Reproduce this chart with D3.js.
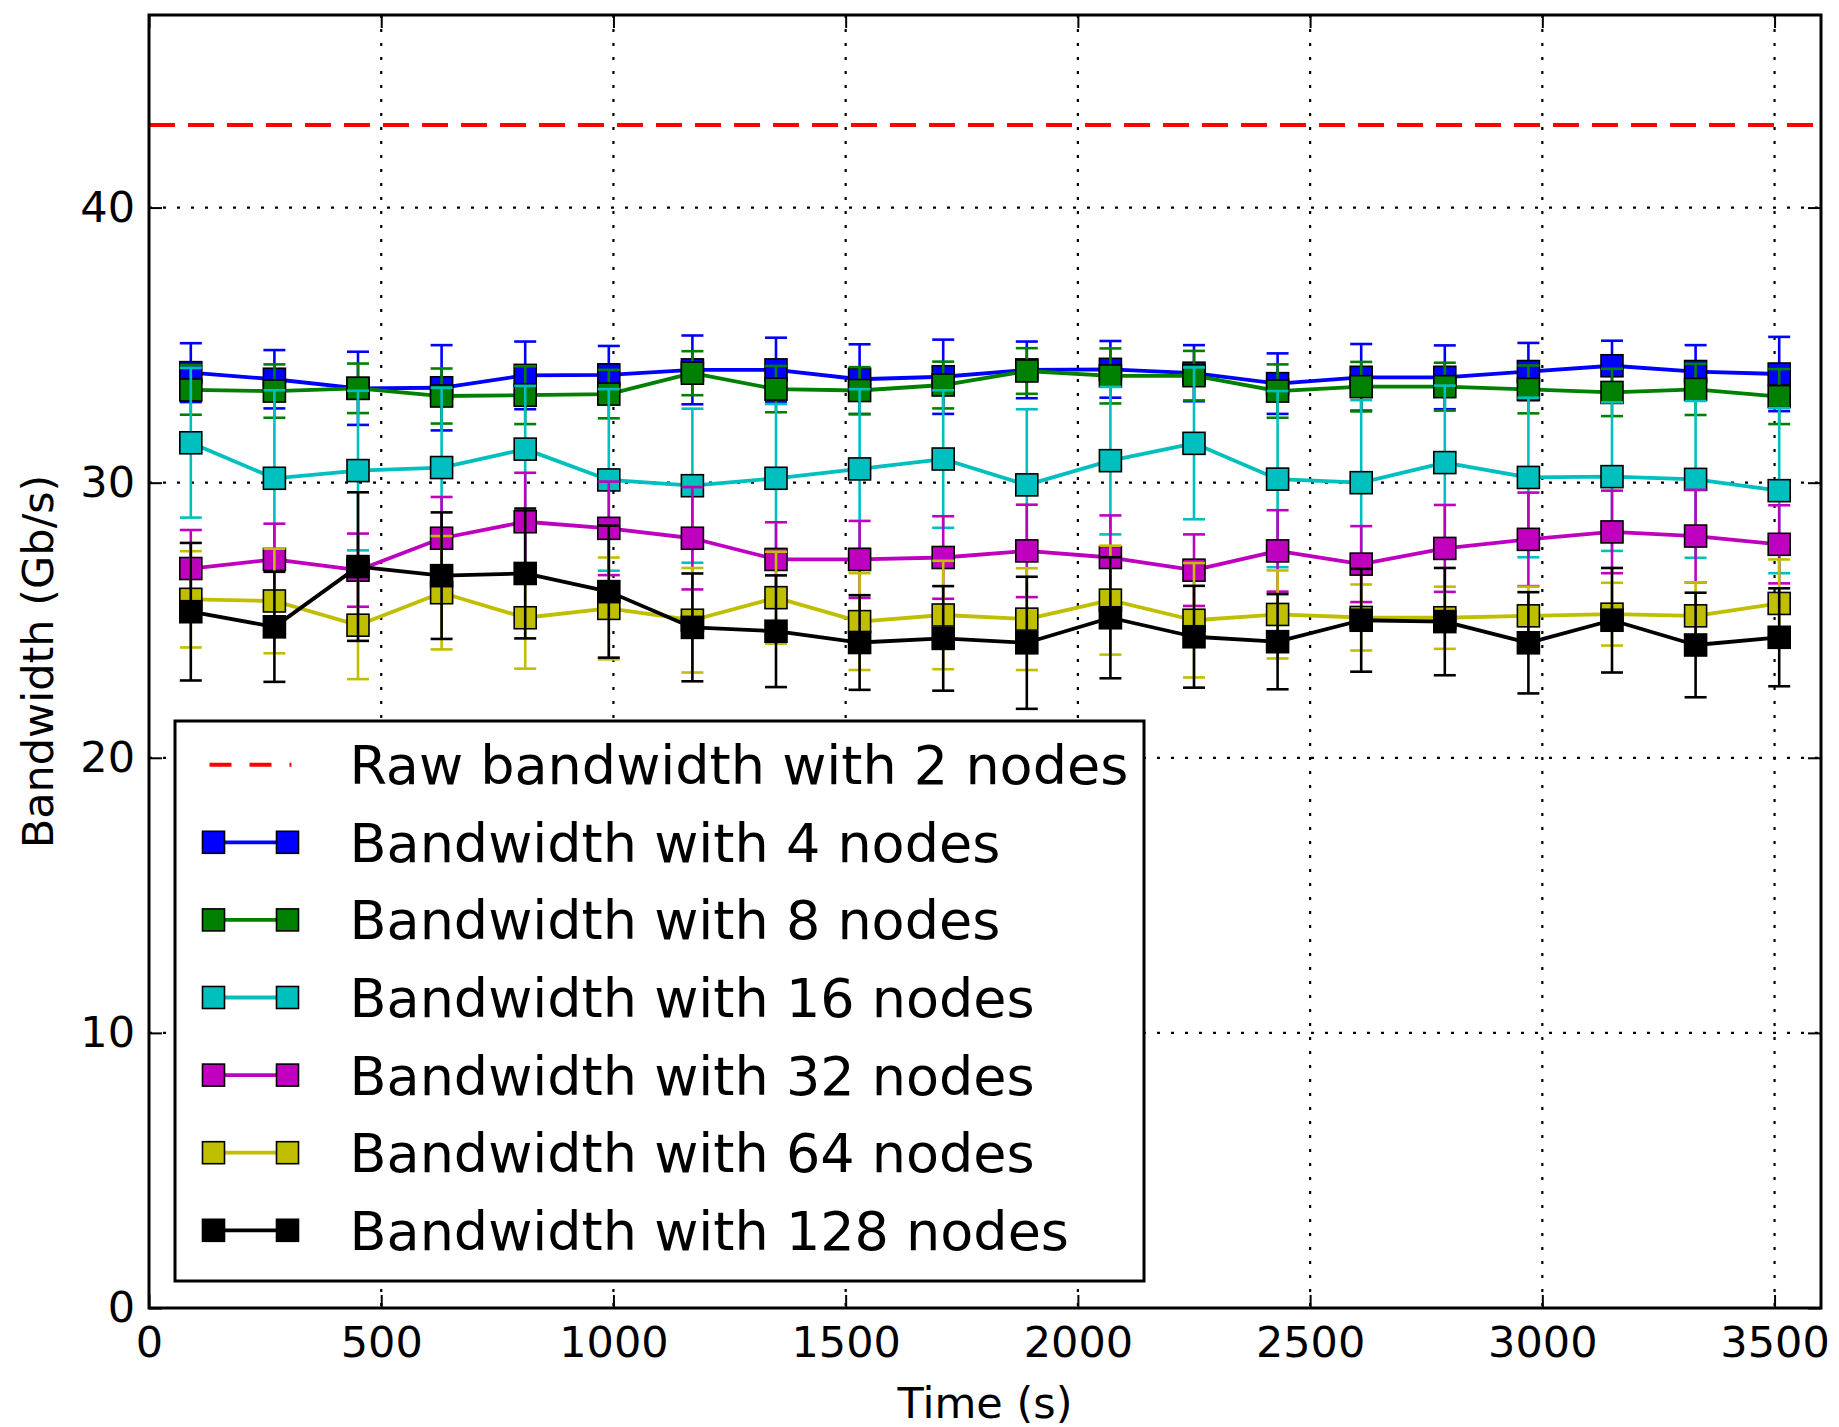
<!DOCTYPE html>
<html>
<head>
<meta charset="utf-8">
<script src="https://cdn.jsdelivr.net/npm/d3@7/dist/d3.min.js"></script>
<style>
  body { margin: 0; background: #fff; }
  svg text { font-family: 'DejaVu Sans', sans-serif; fill: #000; }
</style>
</head>
<body>
<div id="chart-container"></div>
<script>
// time of each sample (s)
const times = [90, 270, 450, 630, 810, 990, 1170, 1350, 1530, 1710,
               1890, 2070, 2250, 2430, 2610, 2790, 2970, 3150, 3330, 3510];

const rawBandwidth = 43;

// mean bandwidth (Gb/s) per node count
const bw4   = [34.0, 33.76, 33.43, 33.45, 33.9, 33.92, 34.1, 34.1, 33.76, 33.85,
               34.1, 34.12, 33.98, 33.6, 33.83, 33.83, 34.04, 34.25, 34.04, 33.95];
const bw8   = [33.37, 33.33, 33.43, 33.15, 33.18, 33.22, 33.98, 33.4, 33.35, 33.55,
               34.06, 33.88, 33.89, 33.33, 33.49, 33.49, 33.39, 33.28, 33.39, 33.13];
const bw16  = [31.45, 30.16, 30.44, 30.55, 31.22, 30.1, 29.89, 30.16, 30.5, 30.86,
               29.92, 30.8, 31.43, 30.13, 30.0, 30.73, 30.19, 30.22, 30.12, 29.71];
const bw32  = [26.88, 27.21, 26.82, 27.98, 28.58, 28.34, 27.98, 27.21, 27.21, 27.28,
               27.52, 27.28, 26.82, 27.52, 27.04, 27.61, 27.94, 28.21, 28.06, 27.76];
const bw64  = [25.76, 25.7, 24.82, 26.0, 25.09, 25.43, 25.0, 25.82, 24.95, 25.19,
               25.04, 25.73, 25.0, 25.21, 25.1, 25.09, 25.16, 25.22, 25.16, 25.61];
const bw128 = [25.31, 24.76, 26.95, 26.62, 26.7, 26.04, 24.74, 24.6, 24.19, 24.34,
               24.18, 25.09, 24.4, 24.22, 25.0, 24.95, 24.18, 25.0, 24.1, 24.38];

// error bar half-heights
const err4   = [1.07, 1.06, 1.33, 1.55, 1.23, 1.05, 1.25, 1.17, 1.27, 1.35,
                1.03, 1.03, 1.02, 1.1, 1.21, 1.16, 1.04, 0.91, 0.96, 1.35];
const err8   = [0.9, 0.97, 0.9, 1.0, 1.05, 0.88, 0.8, 0.84, 0.85, 0.85,
                0.83, 1.0, 0.9, 0.97, 0.9, 0.87, 0.87, 0.86, 0.93, 1.0];
const err16  = [2.72, 3.2, 2.9, 2.9, 2.3, 3.3, 2.8, 2.7, 2.9, 2.5,
                2.75, 2.68, 2.76, 3.2, 3.0, 2.8, 2.9, 2.7, 2.85, 3.0];
const err32  = [1.4, 1.3, 1.33, 1.5, 1.78, 1.7, 1.86, 1.35, 1.4, 1.5,
                1.68, 1.53, 1.3, 1.48, 1.38, 1.58, 1.7, 1.5, 1.68, 1.42];
const err64  = [1.75, 1.9, 1.96, 2.06, 1.85, 1.85, 1.9, 1.67, 1.76, 1.97,
                1.85, 1.98, 2.08, 1.6, 1.2, 1.13, 1.06, 1.14, 1.22, 1.6];
const err128 = [2.5, 2.0, 2.7, 2.3, 2.36, 2.4, 1.96, 2.03, 1.72, 1.9,
                2.4, 2.2, 1.85, 1.73, 1.87, 1.95, 1.84, 1.9, 1.9, 1.78];

const seriesNames = ["Bandwidth with 4 nodes", "Bandwidth with 8 nodes", "Bandwidth with 16 nodes",
                     "Bandwidth with 32 nodes", "Bandwidth with 64 nodes", "Bandwidth with 128 nodes"];
const seriesColors = ["#0000ff", "#008000", "#00bfbf", "#bf00bf", "#bfbf00", "#000000"];
const rawLabel = "Raw bandwidth with 2 nodes";

const xTicks = [0, 500, 1000, 1500, 2000, 2500, 3000, 3500];
const yTicks = [0, 10, 20, 30, 40];

const series = [bw4, bw8, bw16, bw32, bw64, bw128].map((vals, i) => ({
  name: seriesNames[i],
  color: seriesColors[i],
  points: vals.map((v, j) => ({ t: times[j], v: v, e: [err4, err8, err16, err32, err64, err128][i][j] }))
}));

const W = 1839, H = 1427;
const margin = { top: 15, right: 18, bottom: 119, left: 149 };
const width = W - margin.left - margin.right;
const height = H - margin.top - margin.bottom;

const svg = d3.select("#chart-container")
  .append("svg")
  .attr("width", W)
  .attr("height", H);

svg.append("rect").attr("width", W).attr("height", H).attr("fill", "#fff");

const g = svg.append("g").attr("transform", `translate(${margin.left},${margin.top})`);

const x = d3.scaleLinear().domain([0, 3600]).range([0, width]);
const y = d3.scaleLinear().domain([0, 47]).range([height, 0]);

g.append("clipPath").attr("id", "clip")
  .append("rect").attr("width", width).attr("height", height);

// dotted grid
const grid = g.append("g")
  .attr("stroke", "#000")
  .attr("stroke-width", 2.2)
  .attr("stroke-dasharray", "3 11");
grid.selectAll(".gx").data(xTicks.filter(d => d > 0)).enter()
  .append("line")
  .attr("x1", d => x(d)).attr("x2", d => x(d))
  .attr("y1", 0).attr("y2", height);
grid.selectAll(".gy").data(yTicks.filter(d => d > 0)).enter()
  .append("line")
  .attr("x1", 0).attr("x2", width)
  .attr("y1", d => y(d)).attr("y2", d => y(d));

const plot = g.append("g").attr("clip-path", "url(#clip)");

// raw bandwidth reference
plot.append("line")
  .attr("x1", x(0)).attr("x2", x(3600))
  .attr("y1", y(rawBandwidth)).attr("y2", y(rawBandwidth))
  .attr("stroke", "#ff0000")
  .attr("stroke-width", 4)
  .attr("stroke-dasharray", "26 13");

const line = d3.line().x(d => x(d.t)).y(d => y(d.v));
const markerSize = 22;
const capHalf = 11;

series.forEach(s => {
  const sg = plot.append("g");

  const bars = sg.append("g").attr("stroke", s.color).attr("stroke-width", 2.6);
  bars.selectAll(".bar").data(s.points).enter()
    .append("line")
    .attr("x1", d => x(d.t)).attr("x2", d => x(d.t))
    .attr("y1", d => y(d.v - d.e)).attr("y2", d => y(d.v + d.e));
  bars.selectAll(".capTop").data(s.points).enter()
    .append("line")
    .attr("x1", d => x(d.t) - capHalf).attr("x2", d => x(d.t) + capHalf)
    .attr("y1", d => y(d.v + d.e)).attr("y2", d => y(d.v + d.e));
  bars.selectAll(".capBot").data(s.points).enter()
    .append("line")
    .attr("x1", d => x(d.t) - capHalf).attr("x2", d => x(d.t) + capHalf)
    .attr("y1", d => y(d.v - d.e)).attr("y2", d => y(d.v - d.e));

  sg.append("path")
    .datum(s.points)
    .attr("d", line)
    .attr("fill", "none")
    .attr("stroke", s.color)
    .attr("stroke-width", 3.8)
    .attr("stroke-linejoin", "round");

  sg.selectAll(".mk").data(s.points).enter()
    .append("rect")
    .attr("x", d => x(d.t) - markerSize / 2)
    .attr("y", d => y(d.v) - markerSize / 2)
    .attr("width", markerSize)
    .attr("height", markerSize)
    .attr("fill", s.color)
    .attr("stroke", "#000")
    .attr("stroke-width", 1.6);
});

// axes with inward ticks on all sides
const tickLen = 13;
const fontSize = 43;

const xAxis = g.append("g")
  .attr("transform", `translate(0,${height})`)
  .call(d3.axisBottom(x).tickValues(xTicks).tickFormat(d3.format("d"))
    .tickSizeInner(-tickLen).tickSizeOuter(0).tickPadding(18));
const yAxis = g.append("g")
  .call(d3.axisLeft(y).tickValues(yTicks).tickFormat(d3.format("d"))
    .tickSizeInner(-tickLen).tickSizeOuter(0).tickPadding(14));
const xTop = g.append("g")
  .call(d3.axisTop(x).tickValues(xTicks).tickSizeInner(-tickLen).tickSizeOuter(0).tickFormat(""));
const yRight = g.append("g")
  .attr("transform", `translate(${width},0)`)
  .call(d3.axisRight(y).tickValues(yTicks).tickSizeInner(-tickLen).tickSizeOuter(0).tickFormat(""));

[xAxis, yAxis, xTop, yRight].forEach(a => {
  a.select(".domain").remove();
  a.selectAll(".tick line").attr("stroke", "#000").attr("stroke-width", 2);
  a.selectAll("text").style("font-size", fontSize + "px").attr("fill", "#000");
});

g.append("rect")
  .attr("width", width).attr("height", height)
  .attr("fill", "none")
  .attr("stroke", "#000")
  .attr("stroke-width", 3);

// axis titles
g.append("text")
  .attr("text-anchor", "middle")
  .attr("x", width / 2)
  .attr("y", height + 110)
  .style("font-size", fontSize + "px")
  .text("Time (s)");

g.append("text")
  .attr("text-anchor", "middle")
  .attr("transform", "rotate(-90)")
  .attr("x", -height / 2)
  .attr("y", -96)
  .style("font-size", fontSize + "px")
  .text("Bandwidth (Gb/s)");

// legend
const legX = 175 - margin.left, legY = 721 - margin.top;
const legW = 969, legH = 560;
const legend = g.append("g").attr("transform", `translate(${legX},${legY})`);
legend.append("rect")
  .attr("width", legW).attr("height", legH)
  .attr("fill", "#fff")
  .attr("stroke", "#000")
  .attr("stroke-width", 3);

const legFont = 54;
const rowH = 77.6;
const row0 = 43.7;
const hx1 = 38.5, hx2 = 112.5, textX = 174.5;

const entries = [{ name: rawLabel, color: "#ff0000", raw: true }]
  .concat(series.map(s => ({ name: s.name, color: s.color, raw: false })));

entries.forEach((d, i) => {
  const cy = row0 + i * rowH;
  const row = legend.append("g").attr("transform", `translate(0,${cy})`);
  if (d.raw) {
    row.append("line")
      .attr("x1", hx1 - 4).attr("x2", hx2 + 4)
      .attr("stroke", d.color).attr("stroke-width", 4)
      .attr("stroke-dasharray", "22 18");
  } else {
    row.append("line")
      .attr("x1", hx1).attr("x2", hx2)
      .attr("stroke", d.color).attr("stroke-width", 3.8);
    row.selectAll("rect").data([hx1, hx2]).enter()
      .append("rect")
      .attr("x", v => v - markerSize / 2)
      .attr("y", -markerSize / 2)
      .attr("width", markerSize).attr("height", markerSize)
      .attr("fill", d.color)
      .attr("stroke", "#000")
      .attr("stroke-width", 1.6);
  }
  row.append("text")
    .attr("x", textX)
    .attr("y", legFont * 0.36)
    .style("font-size", legFont + "px")
    .text(d.name);
});
</script>
</body>
</html>
